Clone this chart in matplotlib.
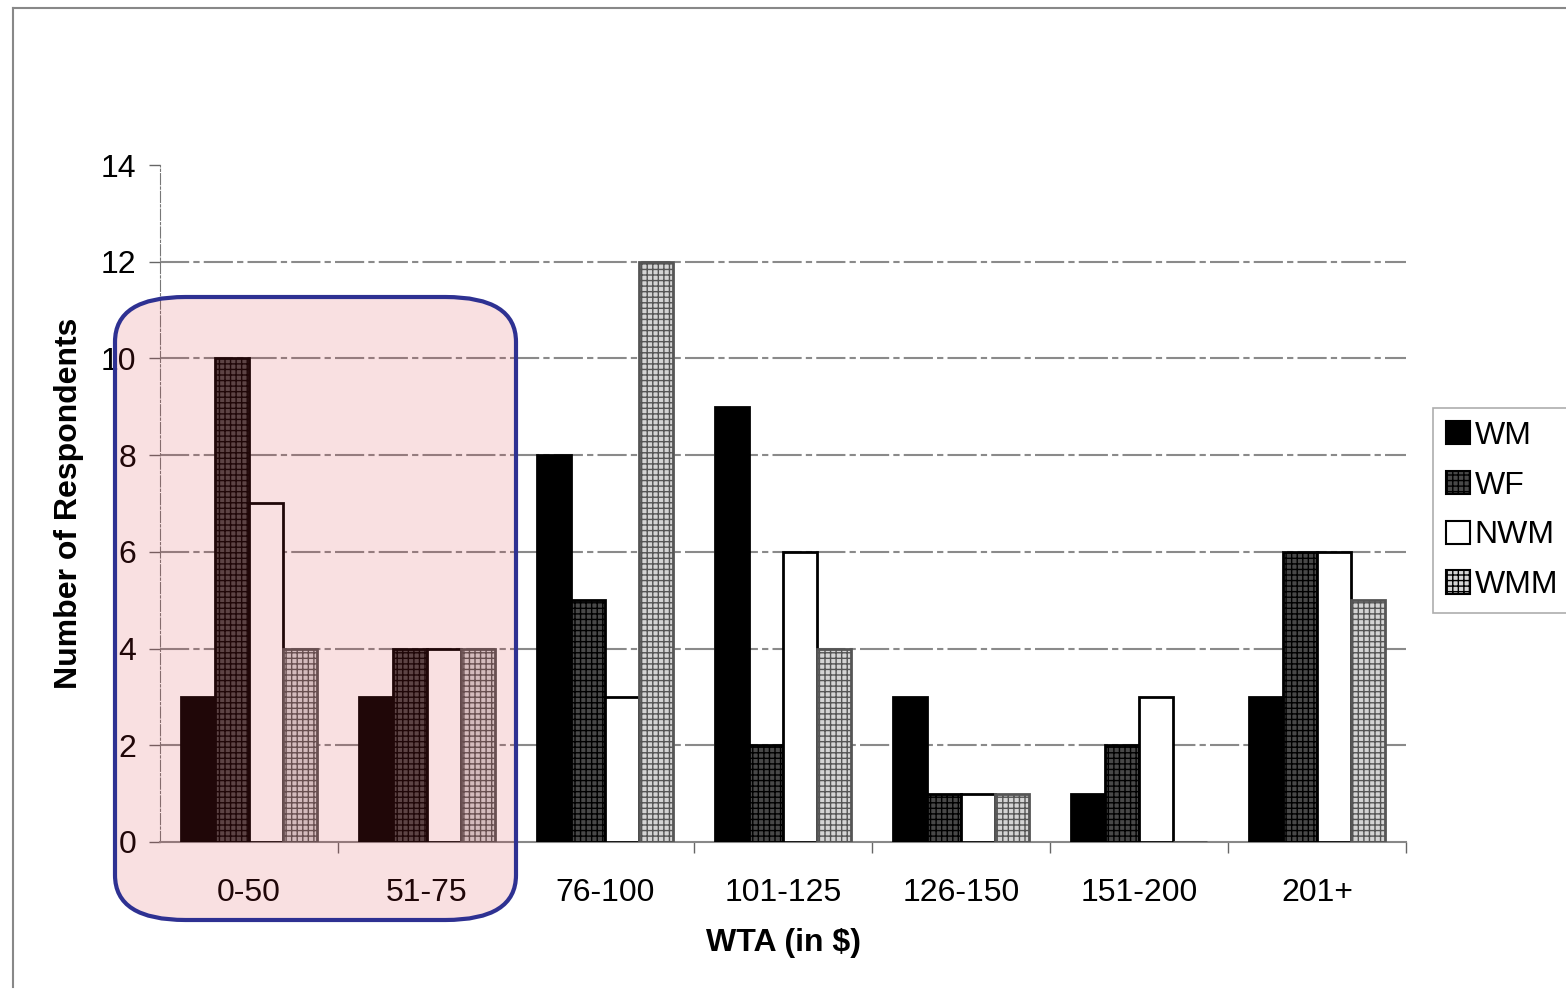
import numpy as np
import matplotlib
matplotlib.use('Agg')
import matplotlib.pyplot as plt
from matplotlib.patches import FancyBboxPatch, Patch
from matplotlib.lines import Line2D

plt.rcParams['font.family'] = ['Liberation Sans', 'DejaVu Sans']

# WTA brackets and respondent counts per group
categories = ['0-50', '51-75', '76-100', '101-125', '126-150', '151-200', '201+']
wm = [3, 3, 8, 9, 3, 1, 3]
wf = [10, 4, 5, 2, 1, 2, 6]
nwm = [7, 4, 3, 6, 1, 3, 6]
wmm = [4, 4, 12, 4, 1, 0, 5]
series_names = ['WM', 'WF', 'NWM', 'WMM']
y_ticks = [0, 2, 4, 6, 8, 10, 12, 14]

fig = plt.figure(figsize=(15.66, 9.97), dpi=100)
ax = fig.add_axes([0.1022, 0.1555, 0.7957, 0.679])

x = np.arange(len(categories))
width = 0.19
styles = [
    dict(color='black', edgecolor='black', hatch=None),
    dict(color='#484848', edgecolor='black', hatch='+++'),
    dict(color='white', edgecolor='black', hatch=None),
    dict(color='#d4d4d4', edgecolor='#555555', hatch='+++'),
]
all_series = [wm, wf, nwm, wmm]
handles = []
for i, (vals, st) in enumerate(zip(all_series, styles)):
    offs = (i - 1.5) * width
    ax.bar(x + offs, vals, width, color=st['color'], edgecolor=st['edgecolor'],
           hatch=st['hatch'], linewidth=2, zorder=3)
    handles.append(Patch(facecolor=st['color'], edgecolor='black',
                         hatch=st['hatch'], linewidth=1.5))

ax.set_xlim(-0.5, len(categories) - 0.5)
ax.set_ylim(0, 14)
ax.set_yticks(y_ticks)
ax.set_yticklabels([str(t) for t in y_ticks], fontsize=23)
ax.set_xticks(x)
ax.set_xticklabels(categories, fontsize=23)
ax.tick_params(axis='x', length=0, pad=26)
ax.tick_params(axis='y', length=8, width=1, color='#666666', pad=9)
# boundary ticks between groups
ax.set_xticks(np.arange(len(categories)) + 0.5, minor=True)
ax.tick_params(axis='x', which='minor', length=8, width=1, color='#666666', direction='out')

for g in y_ticks[1:-1]:
    ax.axhline(g, color='#8a8a8a', linewidth=1.5, linestyle=(0, (14, 2, 3, 2)), zorder=1)

for s in ['top', 'right']:
    ax.spines[s].set_visible(False)
ax.spines['left'].set_color('#777777')
ax.spines['left'].set_linestyle((0, (10, 2, 2, 2)))
ax.spines['bottom'].set_color('#888888')
ax.spines['bottom'].set_linewidth(1.5)

ax.set_ylabel('Number of Respondents', fontsize=23, fontweight='bold', labelpad=12)
ax.set_xlabel('WTA (in $)', fontsize=23, fontweight='bold', labelpad=14)

leg = fig.legend(handles, series_names, loc='upper left',
                 bbox_to_anchor=(1433 / 1566, 1 - 408 / 997), fontsize=23,
                 frameon=True, fancybox=False, edgecolor='#999999',
                 handlelength=0.75, handleheight=0.75, handletextpad=0.15,
                 labelspacing=0.62, borderpad=0.4, borderaxespad=0)
leg.get_frame().set_linewidth(1.2)

# outer frame lines at the top and left edges
fig.add_artist(Line2D([13 / 1566, 1.0], [1 - 8 / 997, 1 - 8 / 997],
                      transform=fig.transFigure, color='#888888', linewidth=1.5))
fig.add_artist(Line2D([13 / 1566, 13 / 1566], [1 - 8 / 997, 0.01],
                      transform=fig.transFigure, color='#888888', linewidth=1.5))

# highlight box over the two lowest brackets
x0, y0, x1, y1 = 115, 297, 516, 920
box = FancyBboxPatch((x0 / 1566, 1 - y1 / 997), (x1 - x0) / 1566, (y1 - y0) / 997,
                     boxstyle='round,pad=0,rounding_size=0.045',
                     transform=fig.transFigure, facecolor='#d9303a', alpha=0.15,
                     edgecolor='none', zorder=10)
fig.add_artist(box)
edge = FancyBboxPatch((x0 / 1566, 1 - y1 / 997), (x1 - x0) / 1566, (y1 - y0) / 997,
                      boxstyle='round,pad=0,rounding_size=0.045',
                      transform=fig.transFigure, facecolor='none',
                      edgecolor='#2e3192', linewidth=3, zorder=11)
fig.add_artist(edge)

fig.savefig('out.png', dpi=100)
